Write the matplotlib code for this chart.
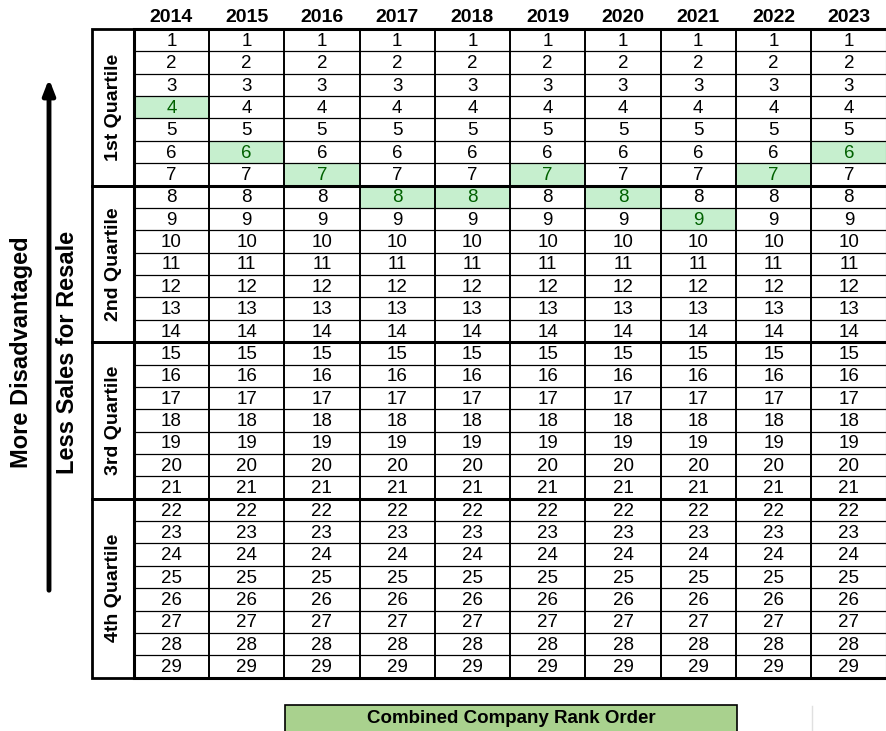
import matplotlib.pyplot as plt
from matplotlib.patches import Rectangle

plt.rcParams['font.family'] = ['Liberation Sans', 'DejaVu Sans']

# data
years = ['2014', '2015', '2016', '2017', '2018', '2019', '2020', '2021', '2022', '2023']
ranks = list(range(1, 30))
company_rank = [4, 6, 7, 8, 8, 7, 8, 9, 7, 6]   # highlighted rank per year
quartiles = ['1st Quartile', '2nd Quartile', '3rd Quartile', '4th Quartile']
quartile_rows = [(1, 7), (8, 14), (15, 21), (22, 29)]

W, H = 887, 731
fig = plt.figure(figsize=(W / 100, H / 100), dpi=100)

# background axes in pixel coords for labels, arrow, footer
bg = fig.add_axes([0, 0, 1, 1])
bg.set_xlim(0, W)
bg.set_ylim(H, 0)
bg.axis('off')

# table geometry (pixels)
left_q, left_t, right_t = 92, 133.7, 886.5
top_t, bot_t = 29, 677.7

# quartile label column
qax = fig.add_axes([left_q / W, 1 - bot_t / H, (left_t - left_q) / W, (bot_t - top_t) / H])
qax.set_xlim(0, 1)
qax.set_ylim(len(ranks), 0)
qax.axis('off')
for name, (a, b) in zip(quartiles, quartile_rows):
    qax.add_patch(Rectangle((0, a - 1), 1, b - a + 1, fill=False, ec='black', lw=2, clip_on=False))
    qax.text(0.52, (a - 1 + b) / 2, name, rotation=90, ha='center', va='center',
             fontsize=14, fontweight='bold')

# main grid
tax = fig.add_axes([left_t / W, 1 - bot_t / H, (right_t - left_t) / W, (bot_t - top_t) / H])
tax.set_xlim(0, len(years))
tax.set_ylim(len(ranks), 0)
tax.axis('off')

for c, (yr, hl) in enumerate(zip(years, company_rank)):
    tax.text(c + 0.5, -0.52, yr, ha='center', va='center', fontsize=14,
             fontweight='bold', clip_on=False)
    for r in ranks:
        good = (r == hl)
        if good:
            tax.add_patch(Rectangle((c, r - 1), 1, 1, fc='#c6efce', ec='none'))
        tax.text(c + 0.5, r - 0.45, str(r), ha='center', va='center', fontsize=13.5,
                 color='#006100' if good else 'black')

# row lines
for r in range(1, len(ranks)):
    thick = any(r == b for _, b in quartile_rows)
    tax.axhline(r, color='black', lw=2.2 if thick else 0.9)
# column lines
for c in range(1, len(years)):
    tax.axvline(c, color='black', lw=1.4)
tax.add_patch(Rectangle((0, 0), len(years), len(ranks), fill=False, ec='black', lw=2.2,
                        clip_on=False))

# left annotation
bg.annotate('', xy=(49, 76), xytext=(49, 593),
            arrowprops=dict(arrowstyle='-|>,head_length=0.9,head_width=0.35',
                            color='black', lw=3.5))
bg.text(22, 352, 'More Disadvantaged', rotation=90, ha='center', va='center',
        fontsize=17, fontweight='bold')
bg.text(68, 352, 'Less Sales for Resale', rotation=90, ha='center', va='center',
        fontsize=17, fontweight='bold')

# footer box
bg.add_patch(Rectangle((285, 705), 452, 40, fc='#a9d18e', ec='black', lw=1.2))
bg.text(511, 718.5, 'Combined Company Rank Order', ha='center', va='center',
        fontsize=13.5, fontweight='bold')
bg.plot([812, 812], [706, 731], color='#e0e0e0', lw=1)

fig.savefig('out.png', dpi=100)
